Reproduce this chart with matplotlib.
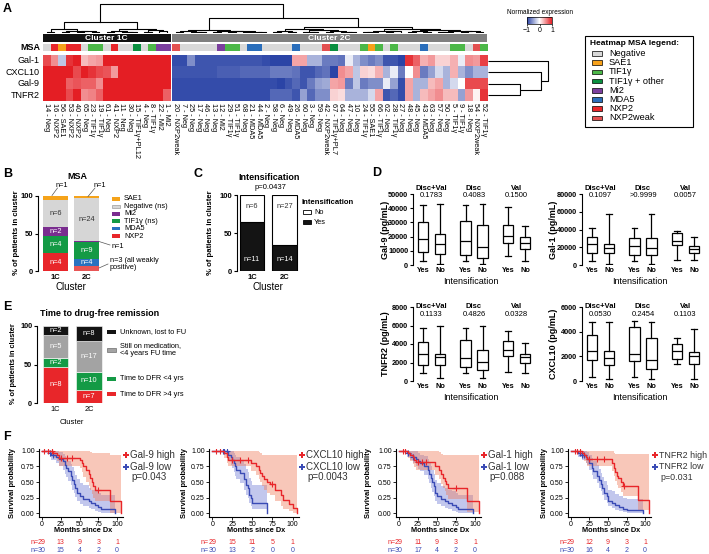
import numpy as np
import matplotlib
matplotlib.use('Agg')
import matplotlib.pyplot as plt
from matplotlib.colors import LinearSegmentedColormap, to_rgb, Normalize
from matplotlib.cm import ScalarMappable
from matplotlib.patches import Rectangle
from matplotlib.lines import Line2D
from matplotlib.transforms import blended_transform_factory as btf

plt.rcParams['font.family'] = ['Liberation Sans', 'DejaVu Sans']

# ---------------- DATA ----------------
ids_1c = [14, 16, 56, 53, 40, 65, 23, 19, 61, 41, 11, 30, 15, 4, 8, 22, 1]
msa_1c = ['Neg', 'NXP2', 'SAE1', 'NXP2', 'NXP2', 'Neg', 'TIF1γ', 'TIF1γ', 'Neg', 'NXP2', 'Neg', 'Neg',
          'TIF1γ+PL12', 'Neg', 'TIF1γ', 'Mi2', 'Mi2']
ids_2c = [20, 7, 25, 17, 46, 13, 12, 29, 51, 68, 21, 44, 2, 58, 6, 49, 26, 60, 3, 59, 42, 67, 64, 47, 10,
          24, 55, 66, 62, 28, 27, 48, 45, 43, 63, 57, 50, 5, 9, 18, 54, 52]
msa_2c = ['NXP2weak', 'Neg', 'Neg', 'Neg', 'Neg', 'Neg', 'Mi2', 'TIF1γ', 'TIF1γ', 'Neg', 'MDA5', 'MDA5',
          'Neg', 'Neg', 'Neg', 'Neg', 'MDA5', 'Neg', 'Neg', 'Neg', 'NXP2weak', 'TIF1γ+PL7', 'Neg', 'Neg', 'Neg',
          'TIF1γ', 'SAE1', 'TIF1γ', 'Neg', 'TIF1γ', 'Neg', 'Neg', 'Neg', 'MDA5', 'Neg', 'Neg', 'Neg', 'TIF1γ',
          'TIF1γ', 'Neg', 'NXP2weak', 'TIF1γ']
genes = ['Gal-1', 'CXCL10', 'Gal-9', 'TNFR2']

gal1_1c = [0.8, 0.5, -0.3, 0.9, 1, 0.3, 0.4, 0.45, 1, 1, 1, 1, 1, 1, 1, 1, 1]
cxcl10_1c = [1, 1, 1, 1, 0.8, 1, 0.9, 0.8, 0.75, 0.45, 1, 1, 1, 1, 1, 1, 1]
gal9_1c = [1, 1, 1, 0.7, 0.75, 0.7, 0.7, 0.5, 1, 1, 1, 1, 1, 1, 1, 1, 1]
tnfr2_1c = [1, 1, 1, 0.8, 1, 0.5, 0.55, 0.7, 1, 1, 1, 1, 1, 1, 1, 1, 0.7]

gal1_2c = [-0.95, -0.95, -0.6, -0.9, -0.9, -0.9, -0.9, -0.9, -0.9, -0.9, -0.9, -0.9, -0.95, -1, -1, -1,
           0.4, 0.4, -0.4, -0.4, -0.7, -0.7, -0.75, -0.1, -0.4, -0.6, -0.7, -0.6, -0.9, -0.9, -1, 0.9, 0.7,
           0.35, 0.45, 0.2, 0.2, 0.35, -0.1, 0.5, 0.45, 0.85]
cxcl10_2c = [-0.9, -0.9, -0.9, -0.9, -0.9, -0.9, -0.85, -0.85, -0.85, -0.8, -0.8, -0.8, -0.8, -0.7, -0.7,
             -0.7, -0.75, -0.9, -0.9, -0.8, -0.75, -1, 0.5, 0.4, -0.3, 0.2, 0.15, 0.35, -0.4, -0.1, -0.7, 0.0,
             0.5, -0.7, -0.5, -0.2, -0.4, 0.35, -0.4, -0.6, -0.4, -0.4]
gal9_2c = [-0.95, -0.95, -0.95, -0.95, -0.95, -0.95, -0.95, -0.95, -0.95, -0.95, -0.95, -0.95, -0.95, -0.95,
           -1, -0.9, -0.8, -0.9, -0.7, -0.5, -0.45, 0.4, 0.45, -0.7, -0.3, -0.7, -0.6, -0.6, -0.1, -0.5, -0.95,
           0.4, -0.4, -0.4, 0.3, 0.4, -0.4, -0.2, 0.0, 0.8, 0.8, 0.8]
tnfr2_2c = [-0.95, -0.95, -0.95, -0.95, -0.95, -0.95, -0.95, -0.95, -0.95, -0.95, -0.95, -0.95, -0.95,
            -0.8, -0.8, -0.8, -0.9, -0.5, -0.8, -0.6, -0.6, 0.2, 0.15, -0.4, -0.4, -0.4, -0.2, 0.4, -0.9,
            -0.8, -0.95, 0.4, -0.4, 0.3, 0.4, 0.5, 0.3, 0.3, -0.5, 0.45, 0.05, 0.9]

msa_legend = ['Negative', 'SAE1', 'TIF1γ', 'TIF1γ + other', 'Mi2', 'MDA5', 'NXP2', 'NXP2weak']
msa_cols = ['#d9d9d9', '#f7a11a', '#4cb848', '#0a9040', '#7b3f9e', '#2a6ebb', '#e8262a', '#e35050']
msa_key = {'Neg': 'Negative', 'SAE1': 'SAE1', 'TIF1γ': 'TIF1γ', 'TIF1γ+PL12': 'TIF1γ + other',
           'TIF1γ+PL7': 'TIF1γ + other', 'Mi2': 'Mi2', 'MDA5': 'MDA5', 'NXP2': 'NXP2', 'NXP2weak': 'NXP2weak'}

# dendrogram trees: [height, left, right], leaves = local column index
tree_1c = [11, [4, [1.5, 0, 1], [2.5, [1.2, 2, 3], [2, [1, 4, 5], [0.8, 6, 7]]]],
           [4, [2.5, [1, 8, 9], [1.5, 10, [0.7, 11, 12]]], [3, [1.2, 13, 14], [1.8, 15, 16]]]]
tree_2c = [15, [3.5, [2, [1, 0, 1], [1.5, 2, [0.8, 3, 4]]], [2.5, [1.2, 5, 6], [2, [1, 7, 8], [1.5, [0.8, 9, 10], [1, 11, 12]]]]],
           [6, [4, [2, [1, 13, 14], [1.5, 15, 16]], [3, [1.5, 17, [1, 18, 19]], [2, [1, 20, 21], [1.5, 22, [0.8, 23, 24]]]]],
            [4.5, [2.5, [1.5, [1, 25, 26], 27], [2, [1, 28, 29], 30]],
             [3, [2, [1, 31, 32], [1.5, 33, 34]], [2.5, [1.5, [1, 35, 36], 37], [2, [1, 38, 39], [1.2, 40, 41]]]]]]]
root_height = 29
row_tree = [60, 0, [53, 1, [32, 2, 3]]]

# Panel B
B_cats = ['NXP2weak', 'NXP2', 'MDA5', 'TIF1γ', 'Mi2', 'Negative', 'SAE1']
B_cols = ['#e85555', '#e8262a', '#2872c0', '#149a45', '#7a2d8f', '#d6d6d6', '#f5a31a']
B_1c = [0, 4, 0, 4, 2, 6, 1]
B_2c = [3, 0, 4, 9, 1, 24, 1]
B_leg = ['SAE1', 'Negative (ns)', 'Mi2', 'TIF1γ (ns)', 'MDA5', 'NXP2']
B_leg_cols = ['#f5a31a', '#d6d6d6', '#7a2d8f', '#149a45', '#2872c0', '#e8262a']

# Panel C
C_yes = [11, 14]
C_no = [6, 27]

# Panel D (whislo, q1, med, q3, whishi) for DV-Yes, DV-No, Disc-Yes, Disc-No, Val-Yes, Val-No
D_groups = ['Disc+Val', 'Disc', 'Val']
gal9_box = [[2500, 9500, 18000, 30500, 42000], [800, 8000, 14500, 21500, 43000],
            [2500, 7000, 17000, 31000, 42000], [800, 5000, 12500, 28500, 43000],
            [6500, 15500, 20500, 28500, 40500], [3000, 11000, 15500, 19500, 27500]]
gal9_p = ['0.1783', '0.4083', '0.1500']
gal1_box = [[4500, 14000, 23400, 31300, 42000], [1100, 14000, 18900, 23400, 58000],
            [4100, 11300, 21500, 30200, 42000], [1100, 11300, 18900, 30200, 58000],
            [5700, 22600, 27200, 36600, 38000], [5700, 13200, 17700, 21500, 31000]]
gal1_p = ['0.1097', '>0.9999', '0.0057']
tnfr2_box = [[840, 1750, 2950, 4200, 5750], [290, 1750, 2580, 2950, 6000],
             [840, 1490, 2470, 4400, 5750], [290, 1200, 2040, 3300, 6000],
             [1020, 2650, 3300, 4300, 5450], [900, 2000, 2580, 2950, 4150]]
tnfr2_p = ['0.1133', '0.4826', '0.0328']
cxcl10_box = [[300, 1700, 2450, 3700, 4800], [150, 1300, 1850, 2400, 4750],
              [300, 1650, 2200, 4350, 4850], [150, 950, 1700, 3450, 4750],
              [1350, 1800, 2450, 3000, 3500], [150, 1400, 2000, 2350, 4200]]
cxcl10_p = ['0.0530', '0.2454', '0.1103']

# Panel E
E_leg = ['Time to DFR >4 yrs', 'Time to DFR <4 yrs', 'Still on medication,\n<4 years FU time', 'Unknown, lost to FU']
E_cols = ['#e8262a', '#149a45', '#a3a3a3', '#141414']
E_1c = [8, 2, 5, 2]
E_2c = [7, 10, 17, 8]

# Panel F (Kaplan-Meier)
km_names = ['Gal-9', 'CXCL10', 'Gal-1', 'TNFR2']
km_p = ['p=0.043', 'p=0.0043', 'p=0.088', 'p=0.031']
f1_hi_t = [0, 15, 20, 22, 50, 53, 55, 58, 62, 64, 66, 68, 70, 90, 105]
f1_hi_s = [1.0, .96, .93, .89, .85, .80, .75, .69, .63, .56, .50, .44, .38, .19, 0.0]
f1_hi_lo = [1.0, .88, .83, .76, .72, .66, .58, .50, .44, .37, .31, .25, .20, .00, 0.0]
f1_hi_up = [1.0, 1.0, 1.0, 1.0, 1.0, 1.0, 1.0, 1.0, 1.0, .98, .97, .97, .97, .94, 0.0]
f1_hi_c = [3, 8, 13, 25, 33, 40, 75]
f1_lo_t = [0, 10, 12, 18, 22, 28, 30, 32, 35, 38, 40, 42, 44, 46, 50, 55, 62, 65, 70, 75, 78, 97]
f1_lo_s = [1.0, .97, .93, .90, .87, .83, .77, .73, .67, .60, .53, .47, .40, .33, .27, .23, .20, .17, .13, .10, .07, 0.0]
f1_lo_lo = [1.0, .90, .85, .80, .75, .70, .63, .58, .52, .45, .38, .32, .26, .20, .15, .12, .09, .07, .04, .02, .01, 0.0]
f1_lo_up = [1.0, 1.0, 1.0, 1.0, .98, .95, .91, .88, .84, .79, .74, .68, .62, .55, .49, .45, .41, .38, .35, .32, .30, 0.0]
f1_lo_c = [10, 15]

f2_hi_t = [0, 15, 18, 20, 48, 55, 58, 60, 62, 65, 68, 72, 78, 85, 88, 95, 100, 105]
f2_hi_s = [1.0, .96, .90, .86, .80, .76, .70, .65, .60, .55, .50, .47, .38, .29, .22, .15, .08, 0.0]
f2_hi_lo = [1.0, .88, .80, .75, .68, .62, .55, .50, .44, .38, .33, .30, .20, .12, .07, .03, .01, 0.0]
f2_hi_up = [1.0, 1.0, 1.0, 1.0, 1.0, 1.0, .98, .96, .94, .93, .93, .93, .93, .93, .93, .93, .93, 0.0]
f2_hi_c = [5, 10, 25, 35, 45, 75]
f2_lo_t = [0, 20, 23, 25, 27, 28, 30, 35, 40, 42, 44, 46, 48, 50, 68]
f2_lo_s = [1.0, .93, .90, .86, .80, .75, .70, .65, .55, .45, .40, .30, .25, .17, 0.0]
f2_lo_lo = [1.0, .83, .78, .73, .66, .60, .55, .49, .38, .29, .24, .16, .12, .07, 0.0]
f2_lo_up = [1.0, 1.0, 1.0, 1.0, .97, .94, .90, .86, .79, .71, .66, .57, .52, .45, 0.0]
f2_lo_c = [13, 15, 18]

f3_hi_t = [0, 12, 15, 18, 20, 22, 48, 52, 55, 58, 60, 62, 65, 90, 105]
f3_hi_s = [1.0, .96, .93, .90, .86, .82, .76, .70, .63, .57, .52, .47, .40, .20, 0.0]
f3_hi_lo = [1.0, .88, .83, .79, .74, .69, .62, .55, .47, .41, .35, .30, .23, .02, 0.0]
f3_hi_up = [1.0, 1.0, 1.0, 1.0, 1.0, 1.0, 1.0, .98, .95, .93, .93, .93, .93, .93, 0.0]
f3_hi_c = [5, 8, 25, 30, 35, 75]
f3_lo_t = [0, 10, 15, 18, 22, 25, 28, 33, 38, 40, 42, 44, 46, 48, 50, 55, 60, 65, 70, 75, 78, 97]
f3_lo_s = [1.0, .97, .93, .90, .87, .83, .80, .75, .70, .63, .57, .50, .43, .33, .27, .23, .20, .17, .13, .10, .07, 0.0]
f3_lo_lo = [1.0, .90, .85, .80, .76, .71, .67, .61, .55, .48, .41, .34, .28, .20, .15, .12, .09, .07, .04, .02, .01, 0.0]
f3_lo_up = [1.0, 1.0, 1.0, 1.0, .99, .96, .94, .91, .87, .81, .76, .70, .63, .54, .48, .44, .41, .38, .35, .32, .30, 0.0]
f3_lo_c = [12, 18]

f4_hi_t = [0, 15, 18, 20, 22, 55, 58, 60, 62, 64, 68, 70, 90, 105]
f4_hi_s = [1.0, .96, .93, .90, .87, .80, .73, .66, .60, .56, .50, .43, .21, 0.0]
f4_hi_lo = [1.0, .88, .84, .80, .76, .67, .59, .51, .45, .40, .34, .27, .05, 0.0]
f4_hi_up = [1.0, 1.0, 1.0, 1.0, 1.0, 1.0, .97, .95, .95, .95, .95, .95, .95, 0.0]
f4_hi_c = [5, 8, 12, 25, 35, 45, 72]
f4_lo_t = [0, 10, 15, 20, 22, 25, 28, 30, 35, 38, 40, 42, 45, 48, 50, 55, 60, 65, 70, 75, 97]
f4_lo_s = [1.0, .97, .93, .90, .87, .80, .73, .67, .60, .53, .47, .40, .33, .27, .20, .17, .13, .10, .07, .05, 0.0]
f4_lo_lo = [1.0, .90, .85, .81, .77, .69, .62, .55, .48, .41, .35, .29, .22, .17, .11, .09, .06, .04, .02, .01, 0.0]
f4_lo_up = [1.0, 1.0, 1.0, 1.0, .98, .93, .88, .83, .77, .71, .65, .58, .51, .45, .38, .35, .31, .28, .25, .23, 0.0]
f4_lo_c = [12, 15, 18]

risk_times = [0, 25, 50, 75, 100]
risk_hi = [[29, 13, 9, 3, 1], [29, 15, 11, 5, 1], [29, 11, 9, 3, 1], [29, 12, 9, 3, 1]]
risk_lo = [[30, 15, 4, 2, 0], [30, 13, 2, 0, 0], [30, 17, 4, 2, 0], [30, 16, 4, 2, 0]]

# ---------------- FIGURE ----------------
W, H = 709, 554
fig = plt.figure(figsize=(W / 100, H / 100), dpi=100)


def axp(x0, y0, x1, y1, **kw):
    return fig.add_axes([x0 / W, 1 - y1 / H, (x1 - x0) / W, (y1 - y0) / H], **kw)


def ft(x, y, s, **kw):
    return fig.text(x / W, 1 - y / H, s, **kw)


def frect(x, y, w, h, **kw):
    fig.add_artist(Rectangle((x / W, 1 - (y + h) / H), w / W, h / H, transform=fig.transFigure, **kw))


def fline(xs, ys, **kw):
    fig.add_artist(Line2D([x / W for x in xs], [1 - y / H for y in ys], transform=fig.transFigure, **kw))


def panel_letter(x, y, s):
    ft(x, y, s, fontsize=9, fontweight='bold', va='center', ha='left')


RED = '#e8262a'
BLUE = '#3a4bb5'

# ================= Panel A =================
panel_letter(3, 9, 'A')
cmap = LinearSegmentedColormap.from_list('hm', ['#2b44a6', '#ffffff', '#e41e24'])
M1 = np.array([gal1_1c, cxcl10_1c, gal9_1c, tnfr2_1c])
M2 = np.array([gal1_2c, cxcl10_2c, gal9_2c, tnfr2_2c])
hm_top, hm_bot = 55, 101
blocks = [((43, 170.5), ids_1c, msa_1c, M1, '#111111', 'Cluster 1C'),
          ((172, 487), ids_2c, msa_2c, M2, '#808080', 'Cluster 2C')]
leaf_x = []
for (x0, x1), ids, msa, mat, ccol, cname in blocks:
    ax = axp(x0, hm_top, x1, hm_bot)
    ax.imshow(mat, cmap=cmap, vmin=-1, vmax=1, aspect='auto', interpolation='nearest')
    ax.axis('off')
    axm = axp(x0, 44, x1, 51)
    axm.imshow([[to_rgb(msa_cols[msa_legend.index(msa_key[m])]) for m in msa]], aspect='auto',
               interpolation='nearest')
    axm.axis('off')
    frect(x0, 34, x1 - x0, 8, fc=ccol, ec='none')
    ft((x0 + x1) / 2, 38.3, cname, color='white', fontsize=6, fontweight='bold', ha='center', va='center')
    n = len(ids)
    cw = (x1 - x0) / n
    xs = [x0 + cw * (i + 0.5) for i in range(n)]
    leaf_x.append(xs)
    for xc, pid, m in zip(xs, ids, msa):
        ft(xc, 103, f'{pid} - {m}', rotation=270, ha='center', va='top', fontsize=5.3)

row_h = (hm_bot - hm_top) / 4
for r, g in enumerate(genes):
    ft(40, hm_top + row_h * (r + 0.5), g, ha='right', va='center', fontsize=6.5)
ft(40, 47.5, 'MSA', ha='right', va='center', fontsize=6.5, fontweight='bold')

# column dendrogram
axd = axp(43, 3, 487, 33)
axd.set_xlim(43, 487)
axd.set_ylim(0, 30)
axd.axis('off')


def draw_tree(ax, node, xs, horiz=False):
    if isinstance(node, int):
        return xs[node], 0
    h, a, b = node
    xa, ha = draw_tree(ax, a, xs, horiz)
    xb, hb = draw_tree(ax, b, xs, horiz)
    if not horiz:
        ax.plot([xa, xa, xb, xb], [ha, h, h, hb], color='black', lw=0.8, solid_capstyle='butt')
    else:
        ax.plot([ha, h, h, hb], [xa, xa, xb, xb], color='black', lw=0.8, solid_capstyle='butt')
    return (xa + xb) / 2, h


xa, ha = draw_tree(axd, tree_1c, leaf_x[0])
xb, hb = draw_tree(axd, tree_2c, leaf_x[1])
axd.plot([xa, xa, xb, xb], [ha, root_height, root_height, hb], color='black', lw=0.8)

# row dendrogram
axr = axp(488, hm_top, 552, hm_bot)
axr.set_xlim(0, 64)
axr.set_ylim(4, 0)
axr.axis('off')
draw_tree(axr, row_tree, [0.5, 1.5, 2.5, 3.5], horiz=True)

# colorbar
cax = axp(527, 17, 552, 24)
cb = fig.colorbar(ScalarMappable(norm=Normalize(-1, 1), cmap=cmap), cax=cax, orientation='horizontal',
                  ticks=[-1, 0, 1])
cb.outline.set_linewidth(0.5)
cax.tick_params(labelsize=5, length=1.5, width=0.5, pad=0.5)
cax.set_xticklabels(['\u22121', '0', '1'])
ft(540, 12, 'Normalized expression', fontsize=4.7, ha='center', va='center')

# MSA legend box
frect(585, 36, 108, 91, fill=False, ec='black', lw=0.8)
ft(590, 43.5, 'Heatmap MSA legend:', fontsize=6, fontweight='bold', va='center')
for i, (lab, col) in enumerate(zip(msa_legend, msa_cols)):
    y = 53.5 + i * 9.2
    frect(592, y - 2.3, 10, 4.6, fc=col, ec='black', lw=0.5)
    ft(609, y, lab, fontsize=6.6, va='center')

# ================= Panel B =================
panel_letter(3, 174, 'B')
ft(77, 176, 'MSA', fontsize=6.5, fontweight='bold', ha='center', va='center')
axB = axp(38, 196, 120, 271)
axB.set_xlim(-0.565, 2.08)
axB.set_ylim(0, 100)
for xi, counts in enumerate([B_1c, B_2c]):
    tot = sum(counts)
    bottom = 0
    for cat, c, col in zip(B_cats, counts, B_cols):
        if c == 0:
            continue
        pct = c / tot * 100
        axB.bar(xi, pct, bottom=bottom, width=0.8, color=col, edgecolor='none')
        if c >= 2 and cat != 'NXP2weak':
            tc = '#333333' if cat == 'Negative' else 'white'
            axB.text(xi, bottom + pct / 2, f'n={c}', ha='center', va='center', fontsize=5.3, color=tc)
        bottom += pct
for s in ['top', 'right', 'bottom']:
    axB.spines[s].set_visible(False)
axB.spines['left'].set_linewidth(0.8)
axB.set_yticks([0, 50, 100])
axB.tick_params(axis='y', labelsize=5.5, length=2.5, width=0.8, pad=1)
axB.set_xticks([0, 1], ['1C', '2C'])
axB.tick_params(axis='x', length=0, labelsize=5.5, pad=2)
for lab in axB.get_yticklabels() + axB.get_xticklabels():
    lab.set_fontweight('bold')
ft(71, 287, 'Cluster', fontsize=7, ha='center', va='center')
ft(17, 233, '% of patients in cluster', fontsize=5.6, rotation=90, ha='center', va='center', fontweight='bold')
# outside annotations
ft(62, 185, 'n=1', fontsize=5.3, ha='center', va='center')
fline([52, 57.5], [195.5, 188], color='#555555', lw=0.5)
ft(100, 185, 'n=1', fontsize=5.3, ha='center', va='center')
fline([88, 95], [196.5, 188], color='#555555', lw=0.5)
ft(112, 246, 'n=1', fontsize=5.3, ha='left', va='center')
fline([99, 110], [241.5, 245], color='#555555', lw=0.5)
ft(110, 264, 'n=3 (all weakly\npositive)', fontsize=5.3, ha='left', va='center', linespacing=1.0)
fline([99, 108], [268, 264], color='#555555', lw=0.5)
for i, (lab, col) in enumerate(zip(B_leg, B_leg_cols)):
    y = 199 + i * 7.4
    frect(112, y - 1.8, 8, 3.6, fc=col, ec='#888888' if lab.startswith('Neg') else 'none', lw=0.4)
    ft(124, y, lab, fontsize=5.3, va='center')

# ================= Panel C =================
panel_letter(193, 174, 'C')
ft(269, 177, 'Intensification', fontsize=6.5, fontweight='bold', ha='center', va='center')
ft(270, 188, 'p=0.0437', fontsize=5.5, ha='center', va='center')
axC = axp(237, 195, 305, 271)
axC.set_xlim(-0.46, 1.63)
axC.set_ylim(0, 100)
for xi, (y_, n_) in enumerate(zip(C_yes, C_no)):
    tot = y_ + n_
    py = y_ / tot * 100
    axC.bar(xi, py, width=0.74, color='#141414', edgecolor='black', lw=0.8)
    axC.bar(xi, 100 - py, bottom=py, width=0.74, color='white', edgecolor='black', lw=0.8)
    axC.text(xi, 15, f'n={y_}', ha='center', va='center', fontsize=5.3, color='white')
    axC.text(xi, 85, f'n={n_}', ha='center', va='center', fontsize=5.3, color='#333333')
for s in ['top', 'right', 'bottom']:
    axC.spines[s].set_visible(False)
axC.spines['left'].set_linewidth(0.8)
axC.set_yticks([0, 50, 100])
axC.tick_params(axis='y', labelsize=5.5, length=2.5, width=0.8, pad=1)
axC.set_xticks([0, 1], ['1C', '2C'])
axC.tick_params(axis='x', length=0, labelsize=5.5, pad=2)
for lab in axC.get_yticklabels() + axC.get_xticklabels():
    lab.set_fontweight('bold')
ft(268, 287, 'Cluster', fontsize=7, ha='center', va='center')
ft(211, 233, '% of patients in cluster', fontsize=5.6, rotation=90, ha='center', va='center', fontweight='bold')
ft(302, 203, 'Intensification', fontsize=5.5, fontweight='bold', va='center')
frect(303, 210.5, 8, 3.6, fc='white', ec='black', lw=0.6)
ft(314, 212.3, 'No', fontsize=5.3, va='center')
frect(303, 220.5, 8, 3.6, fc='#141414', ec='black', lw=0.6)
ft(314, 222.3, 'Yes', fontsize=5.3, va='center')

# ================= Panel D =================
panel_letter(372, 173, 'D')
positions = [1, 2, 3.5, 4.5, 6, 7]
d_specs = [
    ((413, 194, 532, 265), gal9_box, gal9_p, 50000, [0, 10000, 20000, 30000, 40000, 50000], 'Gal-9 (pg/mL)', 189, 195.5, 271, 281),
    ((582, 194, 701, 265), gal1_box, gal1_p, 80000, [0, 20000, 40000, 60000, 80000], 'Gal-1 (pg/mL)', 189, 195.5, 271, 281),
    ((413, 307, 532, 381), tnfr2_box, tnfr2_p, 8000, [0, 2000, 4000, 6000, 8000], 'TNFR2 (pg/mL)', 307, 315, 388, 398),
    ((582, 307, 701, 381), cxcl10_box, cxcl10_p, 6000, [0, 2000, 4000, 6000], 'CXCL10 (pg/mL)', 307, 315, 388, 398),
]
for (x0, y0, x1, y1), boxes, pv, ymax, yt, ylab, ty, py, yny, iy in d_specs:
    ax = axp(x0, y0, x1, y1)
    xmin = 1 - 10 / 17
    ax.set_xlim(xmin, xmin + (x1 - x0) / 17)
    ax.set_ylim(0, ymax)
    stats = [dict(whislo=b[0], q1=b[1], med=b[2], q3=b[3], whishi=b[4], fliers=[]) for b in boxes]
    ax.bxp(stats, positions=positions, widths=0.6, patch_artist=True, showfliers=False,
           boxprops=dict(facecolor='white', edgecolor='black', lw=0.9),
           whiskerprops=dict(color='black', lw=0.9), capprops=dict(color='black', lw=0.9),
           medianprops=dict(color='black', lw=0.9), capwidths=0.3)
    for s in ['top', 'right', 'bottom']:
        ax.spines[s].set_visible(False)
    ax.spines['left'].set_linewidth(0.8)
    ax.set_yticks(yt)
    ax.tick_params(axis='y', labelsize=5.3, length=2.5, width=0.8, pad=1)
    ax.set_xticks(positions, ['Yes', 'No'] * 3)
    ax.tick_params(axis='x', length=0, labelsize=5.3, pad=1.5)
    for lab in ax.get_yticklabels() + ax.get_xticklabels():
        lab.set_fontweight('bold')
    tr = btf(ax.transData, fig.transFigure)
    for gi, (gname, p) in enumerate(zip(D_groups, pv)):
        xc = (positions[2 * gi] + positions[2 * gi + 1]) / 2
        ax.text(xc, 1 - ty / H, gname, transform=tr, ha='center', va='center', fontsize=5.5, fontweight='bold')
        ax.text(xc, 1 - py / H, p, transform=tr, ha='center', va='center', fontsize=5.5)
    ft(x0 - 28, (y0 + y1) / 2, ylab, rotation=90, fontsize=6.5, fontweight='bold', ha='center', va='center')
    ft((x0 + x1) / 2 - 2, iy, 'Intensification', fontsize=6.5, ha='center', va='center')

# ================= Panel E =================
panel_letter(3, 307, 'E')
ft(100, 314, 'Time to drug-free remission', fontsize=6.5, fontweight='bold', ha='center', va='center')
axE = axp(37, 326, 120, 403)
axE.set_xlim(-0.552, 1.925)
axE.set_ylim(0, 100)
for xi, counts in enumerate([E_1c, E_2c]):
    tot = sum(counts)
    bottom = 0
    for c, col in zip(counts, E_cols):
        pct = c / tot * 100
        axE.bar(xi, pct, bottom=bottom, width=0.75, color=col, edgecolor='white', lw=0.4)
        axE.text(xi, bottom + pct / 2, f'n={c}', ha='center', va='center', fontsize=5.3, color='white')
        bottom += pct
for s in ['top', 'right', 'bottom']:
    axE.spines[s].set_visible(False)
axE.spines['left'].set_linewidth(0.8)
axE.set_yticks([0, 50, 100])
axE.tick_params(axis='y', labelsize=5.3, length=2.5, width=0.8, pad=1)
axE.set_xticks([0, 1], ['1C', '2C'])
axE.tick_params(axis='x', length=0, labelsize=5.3, pad=2)
for lab in axE.get_yticklabels():
    lab.set_fontweight('bold')
ft(72, 422, 'Cluster', fontsize=5.5, ha='center', va='center')
ft(14, 364, '% of patients in cluster', fontsize=5.3, rotation=90, ha='center', va='center', fontweight='bold')
e_leg_y = [394, 379, 349.5, 332]
for lab, col, y in zip(E_leg, E_cols, e_leg_y):
    frect(107, y - 2, 9, 4, fc=col, ec='#555555' if col == '#a3a3a3' else 'none', lw=0.4)
    ft(120, y, lab, fontsize=5.3, va='center', linespacing=1.1)

# ================= Panel F =================
panel_letter(3, 437, 'F')
km_data = [
    (f1_hi_t, f1_hi_s, f1_hi_lo, f1_hi_up, f1_hi_c, f1_lo_t, f1_lo_s, f1_lo_lo, f1_lo_up, f1_lo_c),
    (f2_hi_t, f2_hi_s, f2_hi_lo, f2_hi_up, f2_hi_c, f2_lo_t, f2_lo_s, f2_lo_lo, f2_lo_up, f2_lo_c),
    (f3_hi_t, f3_hi_s, f3_hi_lo, f3_hi_up, f3_hi_c, f3_lo_t, f3_lo_s, f3_lo_lo, f3_lo_up, f3_lo_c),
    (f4_hi_t, f4_hi_s, f4_hi_lo, f4_hi_up, f4_hi_c, f4_lo_t, f4_lo_s, f4_lo_lo, f4_lo_up, f4_lo_c),
]
km_axes_x = [(39, 123), (209, 299), (396, 481), (568, 651)]
km_leg_x = [(126, 130), (302, 306), (484, 488), (655, 659)]
km_ylab_x = [13, 184, 368, 545]
km_fs = [7, 7, 7, 6.4]


def km_curve(ax, t, s, lo, up, cens, color, bcol):
    t = np.array(t, float)
    s = np.array(s, float)
    ax.fill_between(t, lo, up, step='post', color=bcol, alpha=0.42, lw=0)
    ax.step(t, s, where='post', color=color, lw=1.0)
    idx = np.searchsorted(t, cens, side='right') - 1
    ax.plot(cens, s[idx], '+', color=color, ms=4, mew=0.8)


for k in range(4):
    x0, x1 = km_axes_x[k]
    ax = axp(x0, 449, x1, 517)
    ht, hs, hl, hu, hc, lt, ls, ll, lu, lc = km_data[k]
    km_curve(ax, lt, ls, ll, lu, lc, BLUE, '#6f7bd6')
    km_curve(ax, ht, hs, hl, hu, hc, RED, '#f07b5a')
    ax.set_xlim(-4, 108)
    ax.set_ylim(-0.06, 1.03)
    for s_ in ['top', 'right']:
        ax.spines[s_].set_visible(False)
    ax.spines['left'].set_linewidth(0.8)
    ax.spines['bottom'].set_linewidth(0.8)
    ax.set_xticks([0, 25, 50, 75, 100])
    ax.set_yticks([0, 0.25, 0.5, 0.75, 1.0], ['0.00', '0.25', '0.50', '0.75', '1.00'])
    ax.tick_params(labelsize=5, length=2, width=0.6, pad=1)
    ft((x0 + x1) / 2 + 2, 531, 'Months since Dx', fontsize=5.3, fontweight='bold', ha='center', va='center')
    ft(km_ylab_x[k], 483, 'Survival probability', fontsize=5.4, fontweight='bold', rotation=90,
       ha='center', va='center')
    tr = btf(ax.transData, fig.transFigure)
    for tt, nh, nl in zip(risk_times, risk_hi[k], risk_lo[k]):
        ax.text(tt, 1 - 542 / H, str(nh), transform=tr, ha='center', va='center', fontsize=5, color=RED)
        ax.text(tt, 1 - 550 / H, str(nl), transform=tr, ha='center', va='center', fontsize=5, color=BLUE)
    ax.text(-5, 1 - 542 / H, 'n=', transform=tr, ha='right', va='center', fontsize=5, color=RED)
    ax.text(-5, 1 - 550 / H, 'n=', transform=tr, ha='right', va='center', fontsize=5, color=BLUE)
    mx, tx = km_leg_x[k]
    for yy, col, lab in [(455, RED, f'{km_names[k]} high'), (466.5, BLUE, f'{km_names[k]} low')]:
        fig.add_artist(Line2D([mx / W], [1 - yy / H], marker='P', color=col, ms=4.5, mew=0,
                              transform=fig.transFigure))
        ft(tx, yy, lab, fontsize=km_fs[k], va='center', color='#333333')
    ft(tx + 1, 477.5, km_p[k], fontsize=km_fs[k], va='center', color='#333333')

fig.savefig('out.png', dpi=100)
